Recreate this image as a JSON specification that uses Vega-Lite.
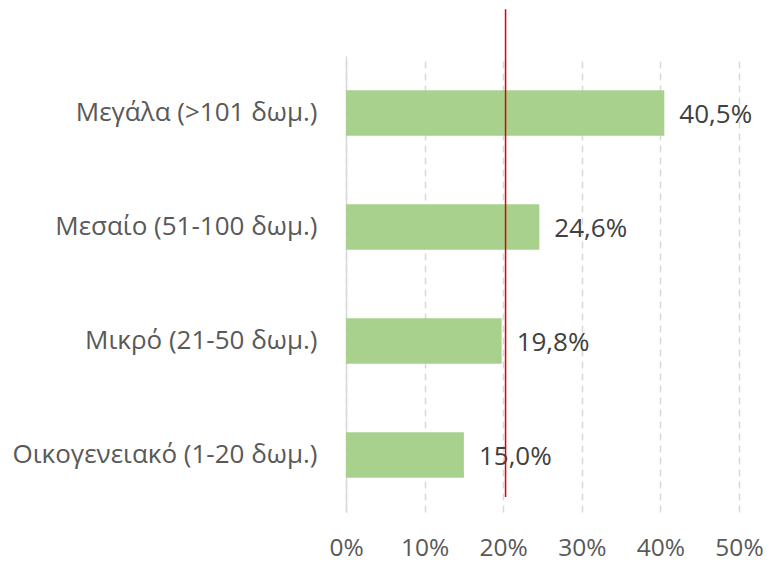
{
  "$schema": "https://vega.github.io/schema/vega-lite/v6.json",
  "width": 393,
  "height": 456,
  "autosize": {"type": "none"},
  "padding": {"left": 346, "top": 56, "right": 30, "bottom": 49},
  "background": "white",
  "config": {
    "view": {"stroke": null},
    "font": "Open Sans",
    "locale": {"number": {"decimal": ",", "thousands": ".", "grouping": [3], "currency": ["", " €"]}}
  },
  "datasets": {
    "bars": [
      {"category": "Μεγάλα (>101 δωμ.)", "share": 0.405},
      {"category": "Μεσαίο (51-100 δωμ.)", "share": 0.246},
      {"category": "Μικρό (21-50 δωμ.)", "share": 0.198},
      {"category": "Οικογενειακό (1-20 δωμ.)", "share": 0.150}
    ],
    "ref": [
      {"share": 0.203, "lo": 0, "hi": 1}
    ]
  },
  "layer": [
    {
      "data": {"name": "bars"},
      "encoding": {
        "y": {
          "field": "category", "type": "nominal", "sort": null,
          "scale": {"paddingInner": 0.6, "paddingOuter": 0.3},
          "axis": {
            "title": null, "ticks": false, "domain": true, "domainColor": "#D9D9D9", "domainWidth": 1.5,
            "labelPadding": 29, "labelFontSize": 26, "labelColor": "#595959", "labelLimit": 400
          }
        },
        "x": {
          "field": "share", "type": "quantitative",
          "scale": {"domain": [0, 0.5]},
          "axis": {
            "title": null, "format": "%", "values": [0, 0.1, 0.2, 0.3, 0.4, 0.5], "labelOverlap": false, "labelFlush": false,
            "ticks": false, "domain": false, "labelPadding": 24, "labelFontSize": 24.5, "labelColor": "#595959",
            "grid": true, "gridColor": "#D9D9D9", "gridDash": [7, 5], "gridWidth": 1.5
          }
        }
      },
      "layer": [
        {"mark": {"type": "bar", "color": "#A9D18E"}},
        {
          "mark": {"type": "text", "align": "left", "baseline": "middle", "dx": 15, "dy": 2, "fontSize": 26, "color": "#404040"},
          "encoding": {"text": {"field": "share", "type": "quantitative", "format": ".1%"}}
        }
      ]
    },
    {
      "data": {"name": "ref"},
      "mark": {"type": "rule", "color": "#E00000", "strokeWidth": 1.5},
      "encoding": {
        "x": {"field": "share", "type": "quantitative"},
        "y": {"field": "lo", "type": "quantitative", "scale": {"domain": [-0.0308, 0.9043]}, "axis": null},
        "y2": {"field": "hi"}
      }
    }
  ],
  "resolve": {"scale": {"y": "independent"}}
}
